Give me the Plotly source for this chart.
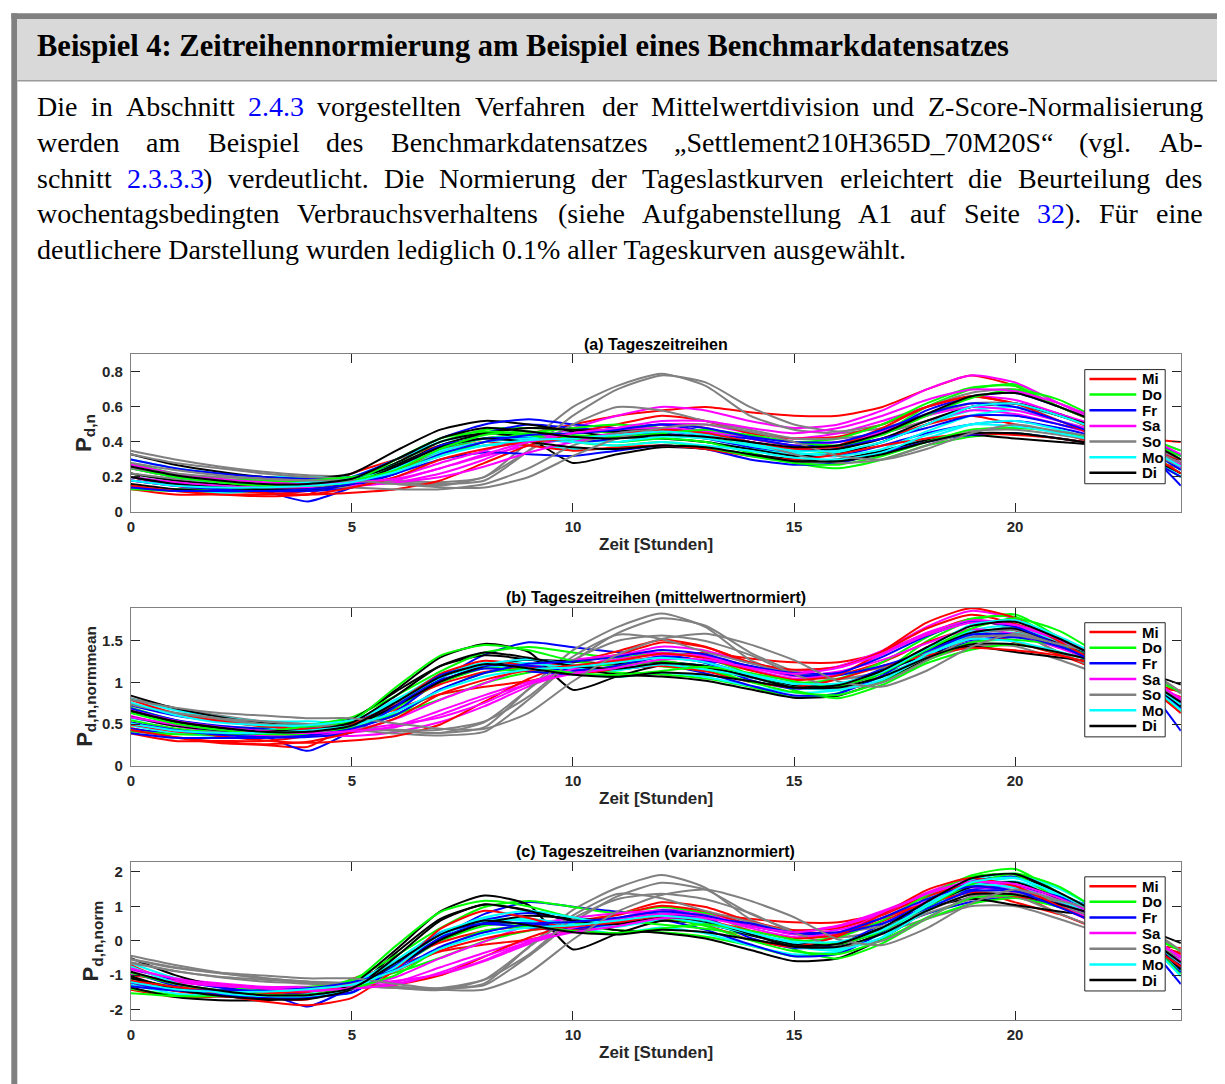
import numpy as np
import plotly.graph_objects as go

# ---------------- data (hourly samples) ----------------
HOURS = [0, 1, 2, 3, 4, 5, 6, 7, 8, 9, 10, 11, 12, 13, 14, 15, 16, 17, 18, 19, 20, 21, 22, 23, 23.75]
DAYS = ["Mi", "Do", "Fr", "Sa", "So", "Mo", "Di"]
DAY_COLORS = ["#ff0000", "#00ff00", "#0000ff", "#ff00ff", "#808080", "#00ffff", "#000000"]

MI = [
    [0.20, 0.15, 0.12, 0.11, 0.10, 0.22, 0.30, 0.38, 0.42, 0.45, 0.50, 0.55, 0.58, 0.60, 0.57, 0.55, 0.55, 0.60, 0.70, 0.78, 0.72, 0.60, 0.50, 0.42, 0.40],
    [0.13, 0.10, 0.10, 0.10, 0.12, 0.16, 0.25, 0.33, 0.38, 0.40, 0.42, 0.45, 0.50, 0.48, 0.42, 0.38, 0.37, 0.42, 0.50, 0.55, 0.50, 0.45, 0.38, 0.30, 0.25],
    [0.18, 0.15, 0.13, 0.11, 0.10, 0.11, 0.13, 0.18, 0.28, 0.38, 0.45, 0.50, 0.55, 0.52, 0.45, 0.42, 0.43, 0.50, 0.60, 0.66, 0.62, 0.55, 0.45, 0.35, 0.30],
    [0.25, 0.20, 0.17, 0.15, 0.14, 0.16, 0.24, 0.35, 0.40, 0.38, 0.35, 0.37, 0.38, 0.36, 0.32, 0.30, 0.33, 0.38, 0.42, 0.45, 0.44, 0.42, 0.38, 0.32, 0.28],
    [0.15, 0.12, 0.10, 0.09, 0.10, 0.14, 0.20, 0.30, 0.36, 0.40, 0.42, 0.44, 0.47, 0.45, 0.40, 0.36, 0.38, 0.48, 0.60, 0.66, 0.62, 0.52, 0.42, 0.33, 0.22],
]
DO = [
    [0.28, 0.22, 0.19, 0.18, 0.17, 0.19, 0.28, 0.40, 0.47, 0.48, 0.47, 0.45, 0.44, 0.42, 0.38, 0.33, 0.35, 0.45, 0.60, 0.70, 0.73, 0.62, 0.52, 0.42, 0.30],
    [0.15, 0.13, 0.13, 0.14, 0.15, 0.18, 0.26, 0.35, 0.42, 0.44, 0.42, 0.40, 0.42, 0.40, 0.34, 0.28, 0.25, 0.30, 0.38, 0.43, 0.45, 0.42, 0.38, 0.30, 0.20],
    [0.22, 0.18, 0.16, 0.16, 0.18, 0.20, 0.25, 0.32, 0.40, 0.45, 0.48, 0.50, 0.48, 0.46, 0.43, 0.40, 0.42, 0.50, 0.62, 0.71, 0.72, 0.60, 0.50, 0.40, 0.32],
    [0.13, 0.12, 0.12, 0.13, 0.15, 0.17, 0.30, 0.42, 0.46, 0.44, 0.40, 0.38, 0.40, 0.37, 0.32, 0.28, 0.27, 0.32, 0.40, 0.47, 0.48, 0.46, 0.40, 0.33, 0.22],
    [0.25, 0.20, 0.17, 0.15, 0.15, 0.18, 0.24, 0.36, 0.44, 0.46, 0.44, 0.43, 0.45, 0.47, 0.44, 0.40, 0.38, 0.44, 0.55, 0.65, 0.70, 0.64, 0.52, 0.42, 0.35],
]
FR = [
    [0.15, 0.13, 0.13, 0.12, 0.06, 0.14, 0.22, 0.35, 0.45, 0.50, 0.48, 0.46, 0.45, 0.42, 0.37, 0.33, 0.32, 0.38, 0.45, 0.50, 0.52, 0.48, 0.42, 0.35, 0.25],
    [0.30, 0.25, 0.22, 0.20, 0.19, 0.20, 0.30, 0.42, 0.50, 0.53, 0.50, 0.48, 0.50, 0.46, 0.40, 0.35, 0.36, 0.45, 0.58, 0.66, 0.68, 0.60, 0.50, 0.42, 0.32],
    [0.20, 0.16, 0.14, 0.13, 0.13, 0.15, 0.22, 0.30, 0.34, 0.33, 0.32, 0.35, 0.38, 0.36, 0.30, 0.27, 0.28, 0.34, 0.40, 0.44, 0.45, 0.42, 0.38, 0.30, 0.20],
    [0.18, 0.15, 0.13, 0.12, 0.12, 0.14, 0.25, 0.38, 0.42, 0.42, 0.40, 0.42, 0.46, 0.44, 0.42, 0.38, 0.38, 0.42, 0.48, 0.55, 0.55, 0.50, 0.44, 0.35, 0.24],
    [0.14, 0.12, 0.12, 0.12, 0.13, 0.16, 0.22, 0.33, 0.40, 0.44, 0.45, 0.47, 0.50, 0.48, 0.43, 0.40, 0.40, 0.47, 0.56, 0.62, 0.60, 0.52, 0.43, 0.33, 0.15],
]
SA = [
    [0.25, 0.20, 0.17, 0.15, 0.15, 0.15, 0.17, 0.22, 0.30, 0.40, 0.48, 0.55, 0.60, 0.58, 0.52, 0.48, 0.50, 0.58, 0.70, 0.78, 0.74, 0.62, 0.50, 0.40, 0.30],
    [0.22, 0.18, 0.16, 0.15, 0.14, 0.15, 0.18, 0.25, 0.32, 0.38, 0.42, 0.45, 0.50, 0.50, 0.45, 0.42, 0.45, 0.52, 0.60, 0.66, 0.64, 0.56, 0.48, 0.38, 0.28],
    [0.18, 0.15, 0.14, 0.14, 0.14, 0.15, 0.20, 0.28, 0.35, 0.42, 0.45, 0.47, 0.48, 0.46, 0.42, 0.38, 0.40, 0.45, 0.52, 0.58, 0.56, 0.50, 0.43, 0.35, 0.25],
    [0.20, 0.17, 0.15, 0.14, 0.14, 0.15, 0.17, 0.20, 0.26, 0.34, 0.40, 0.44, 0.46, 0.45, 0.40, 0.36, 0.38, 0.46, 0.55, 0.60, 0.58, 0.52, 0.45, 0.37, 0.27],
    [0.27, 0.22, 0.19, 0.17, 0.16, 0.17, 0.19, 0.25, 0.33, 0.40, 0.45, 0.48, 0.52, 0.52, 0.48, 0.45, 0.48, 0.55, 0.64, 0.70, 0.69, 0.62, 0.52, 0.42, 0.33],
]
SO = [
    [0.35, 0.30, 0.26, 0.23, 0.21, 0.20, 0.18, 0.17, 0.20, 0.40, 0.60, 0.72, 0.79, 0.72, 0.55, 0.47, 0.45, 0.48, 0.55, 0.62, 0.62, 0.55, 0.47, 0.40, 0.32],
    [0.33, 0.28, 0.25, 0.22, 0.20, 0.19, 0.17, 0.16, 0.18, 0.35, 0.55, 0.70, 0.78, 0.74, 0.60, 0.50, 0.46, 0.50, 0.60, 0.68, 0.70, 0.60, 0.50, 0.42, 0.35],
    [0.28, 0.24, 0.21, 0.19, 0.18, 0.17, 0.16, 0.15, 0.20, 0.35, 0.50, 0.60, 0.58, 0.52, 0.47, 0.42, 0.42, 0.45, 0.52, 0.60, 0.62, 0.55, 0.47, 0.38, 0.30],
    [0.22, 0.19, 0.17, 0.16, 0.15, 0.14, 0.13, 0.13, 0.16, 0.25, 0.38, 0.45, 0.47, 0.45, 0.40, 0.33, 0.28, 0.30, 0.38, 0.46, 0.47, 0.44, 0.40, 0.34, 0.26],
    [0.25, 0.22, 0.20, 0.19, 0.18, 0.18, 0.16, 0.14, 0.14, 0.20, 0.32, 0.42, 0.48, 0.50, 0.46, 0.40, 0.32, 0.30, 0.36, 0.45, 0.50, 0.46, 0.42, 0.36, 0.28],
]
MO = [
    [0.30, 0.25, 0.22, 0.20, 0.20, 0.20, 0.30, 0.40, 0.45, 0.44, 0.42, 0.40, 0.42, 0.40, 0.36, 0.33, 0.34, 0.40, 0.50, 0.58, 0.60, 0.55, 0.47, 0.38, 0.28],
    [0.15, 0.12, 0.11, 0.12, 0.13, 0.16, 0.24, 0.34, 0.38, 0.38, 0.36, 0.36, 0.38, 0.37, 0.33, 0.30, 0.30, 0.35, 0.42, 0.50, 0.52, 0.47, 0.40, 0.32, 0.20],
    [0.20, 0.17, 0.15, 0.15, 0.17, 0.19, 0.27, 0.37, 0.42, 0.43, 0.41, 0.40, 0.43, 0.42, 0.38, 0.34, 0.32, 0.36, 0.46, 0.55, 0.58, 0.52, 0.45, 0.35, 0.24],
    [0.25, 0.20, 0.17, 0.16, 0.16, 0.18, 0.25, 0.35, 0.40, 0.42, 0.40, 0.38, 0.40, 0.38, 0.35, 0.31, 0.30, 0.34, 0.44, 0.50, 0.49, 0.45, 0.40, 0.32, 0.22],
    [0.18, 0.15, 0.14, 0.14, 0.15, 0.17, 0.23, 0.32, 0.38, 0.41, 0.42, 0.44, 0.46, 0.44, 0.39, 0.35, 0.35, 0.40, 0.50, 0.60, 0.62, 0.55, 0.46, 0.36, 0.26],
]
DI = [
    [0.33, 0.27, 0.23, 0.20, 0.19, 0.22, 0.35, 0.47, 0.52, 0.50, 0.46, 0.43, 0.42, 0.40, 0.36, 0.32, 0.33, 0.40, 0.50, 0.60, 0.62, 0.56, 0.47, 0.38, 0.28],
    [0.16, 0.13, 0.12, 0.12, 0.13, 0.17, 0.28, 0.40, 0.45, 0.42, 0.28, 0.33, 0.37, 0.36, 0.33, 0.30, 0.30, 0.35, 0.41, 0.44, 0.42, 0.40, 0.38, 0.34, 0.30],
    [0.22, 0.18, 0.16, 0.15, 0.15, 0.18, 0.27, 0.38, 0.45, 0.48, 0.47, 0.46, 0.47, 0.45, 0.40, 0.36, 0.36, 0.42, 0.52, 0.60, 0.62, 0.55, 0.47, 0.37, 0.27],
    [0.20, 0.16, 0.14, 0.13, 0.13, 0.16, 0.26, 0.37, 0.42, 0.40, 0.37, 0.36, 0.38, 0.37, 0.33, 0.29, 0.29, 0.33, 0.40, 0.45, 0.45, 0.42, 0.38, 0.31, 0.22],
    [0.26, 0.21, 0.18, 0.16, 0.16, 0.19, 0.30, 0.42, 0.48, 0.46, 0.43, 0.42, 0.44, 0.43, 0.40, 0.37, 0.38, 0.45, 0.56, 0.66, 0.68, 0.60, 0.50, 0.40, 0.30],
]
CURVES = [MI, DO, FR, SA, SO, MO, DI]

X_TICKS = [0, 5, 10, 15, 20]
X_TICKTEXT = ["0", "5", "10", "15", "20"]
YA_TICKS = [0, 0.2, 0.4, 0.6, 0.8]
YA_TICKTEXT = ["0", "0.2", "0.4", "0.6", "0.8"]
YB_TICKS = [0, 0.5, 1, 1.5]
YB_TICKTEXT = ["0", "0.5", "1", "1.5"]
YC_TICKS = [-2, -1, 0, 1, 2]
YC_TICKTEXT = ["-2", "-1", "0", "1", "2"]

PANEL_TITLES = ["(a) Tageszeitreihen", "(b) Tageszeitreihen (mittelwertnormiert)",
                "(c) Tageszeitreihen (varianznormiert)"]
Y_TITLES = ["P<sub>d,n</sub>", "P<sub>d,n,normmean</sub>", "P<sub>d,n,norm</sub>"]
X_TITLE = "Zeit [Stunden]"

HEADER = "Beispiel 4: Zeitreihennormierung am Beispiel eines Benchmarkdatensatzes"
K, B = "#000000", "#0000ff"   # text colour, link colour

# each word is a list of (text, colour) pieces
TEXT_LINES = [
    [[("Die", K)], [("in", K)], [("Abschnitt", K)], [("2.4.3", B)], [("vorgestellten", K)],
     [("Verfahren", K)], [("der", K)], [("Mittelwertdivision", K)], [("und", K)],
     [("Z-Score-Normalisierung", K)]],
    [[("werden", K)], [("am", K)], [("Beispiel", K)], [("des", K)], [("Benchmarkdatensatzes", K)],
     [("„Settlement210H365D_70M20S“", K)], [("(vgl.", K)], [("Ab-", K)]],
    [[("schnitt", K)], [("2.3.3.3", B), (")", K)], [("verdeutlicht.", K)], [("Die", K)],
     [("Normierung", K)], [("der", K)], [("Tageslastkurven", K)], [("erleichtert", K)],
     [("die", K)], [("Beurteilung", K)], [("des", K)]],
    [[("wochentagsbedingten", K)], [("Verbrauchsverhaltens", K)], [("(siehe", K)],
     [("Aufgabenstellung", K)], [("A1", K)], [("auf", K)], [("Seite", K)], [("32", B), (").", K)],
     [("Für", K)], [("eine", K)]],
]
LAST_LINE = "deutlichere Darstellung wurden lediglich 0.1% aller Tageskurven ausgewählt."

# ---------------- helpers (layout only) ----------------
OFFX, OFFY = 8, 4
W, H = 1225 - OFFX, 1084 - OFFY
def px(x):
    return (x - OFFX) / W
def py(y):
    return 1 - (y - OFFY) / H

# Times / Liberation Serif advance widths (1/1000 em) for justification
TIMES = {' ': 250, '%': 833, '(': 333, ')': 333, ',': 250, '-': 333, '.': 250, '_': 500, ':': 278,
         '„': 444, '“': 444, 'ä': 444, 'ü': 500,
         'A': 722, 'B': 667, 'C': 667, 'D': 722, 'E': 611, 'F': 556, 'G': 722, 'H': 722, 'I': 333,
         'J': 389, 'K': 722, 'L': 611, 'M': 889, 'N': 722, 'O': 722, 'P': 556, 'Q': 722, 'R': 667,
         'S': 556, 'T': 611, 'U': 722, 'V': 722, 'W': 944, 'X': 722, 'Y': 722, 'Z': 611,
         'a': 444, 'b': 500, 'c': 444, 'd': 500, 'e': 444, 'f': 333, 'g': 500, 'h': 500, 'i': 278,
         'j': 278, 'k': 500, 'l': 278, 'm': 778, 'n': 500, 'o': 500, 'p': 500, 'q': 500, 'r': 333,
         's': 389, 't': 278, 'u': 500, 'v': 500, 'w': 722, 'x': 500, 'y': 500, 'z': 444}
def text_width(s, fs):
    return sum(TIMES.get(c, 500) for c in s) / 1000.0 * fs

fig = go.Figure()

# ---------------- traces ----------------
x_dom = [px(127.3), px(1180.7)]
panel_top = [353.0, 608.0, 864.0]
panel_bot = [511.7, 767.3, 1023.3]
ytitle_x = [81.0, 81.5, 88.0]
axes_ids = [("x", "y"), ("x2", "y2"), ("x3", "y3")]

def transform(vals, panel):
    v = np.array(vals, dtype=float)
    if panel == 0:
        return v
    if panel == 1:
        return v / v.mean()
    return (v - v.mean()) / v.std(ddof=1)

n_per_day = len(MI)
for p in range(3):
    xa, ya = axes_ids[p]
    for k in range(n_per_day):
        for d, day in enumerate(DAYS):
            fig.add_trace(go.Scatter(
                x=HOURS, y=transform(CURVES[d][k], p), mode="lines",
                line=dict(color=DAY_COLORS[d], width=2, shape="spline", smoothing=0.6),
                name=day, showlegend=False, hoverinfo="skip",
                xaxis=xa, yaxis=ya))

# ---------------- axes ----------------
tick_font = dict(family="Liberation Sans", size=15, color="#262626", weight="bold")
y_ranges = [[0, 0.9], [0, 1.9], [-2.3, 2.3]]
y_ticks = [(YA_TICKS, YA_TICKTEXT), (YB_TICKS, YB_TICKTEXT), (YC_TICKS, YC_TICKTEXT)]
layout_axes = {}
for p in range(3):
    sfx = "" if p == 0 else str(p + 1)
    layout_axes["xaxis" + sfx] = dict(
        domain=x_dom, range=[0, 23.75], anchor="y" + sfx,
        tickvals=X_TICKS, ticktext=X_TICKTEXT, ticks="inside", ticklen=9, tickwidth=1,
        tickcolor="#262626", showline=True, linecolor="#808080", linewidth=1, mirror="ticks",
        showgrid=False, zeroline=False, tickfont=tick_font, ticklabelstandoff=1)
    layout_axes["yaxis" + sfx] = dict(
        domain=[py(panel_bot[p]), py(panel_top[p])], range=y_ranges[p], anchor="x" + sfx,
        tickvals=y_ticks[p][0], ticktext=y_ticks[p][1], ticks="inside", ticklen=9, tickwidth=1,
        tickcolor="#262626", showline=True, linecolor="#808080", linewidth=1, mirror="ticks",
        showgrid=False, zeroline=False, tickfont=tick_font, ticklabelstandoff=4)

shapes = []
annotations = []

# ---------------- page frame ----------------
shapes.append(dict(type="rect", xref="paper", yref="paper", x0=px(7.3), x1=px(13.3), y0=py(1090), y1=py(9.3),
                   fillcolor="#808080", line=dict(width=0), layer="below"))
shapes.append(dict(type="rect", xref="paper", yref="paper", x0=px(7.3), x1=px(1230), y0=py(15.0), y1=py(9.3),
                   fillcolor="#808080", line=dict(width=0), layer="below"))
shapes.append(dict(type="rect", xref="paper", yref="paper", x0=px(1222.8), x1=px(1230), y0=py(1090), y1=py(9.3),
                   fillcolor="#808080", line=dict(width=0), layer="below"))
shapes.append(dict(type="rect", xref="paper", yref="paper", x0=px(13.3), x1=px(1222.8), y0=py(77.3), y1=py(15.0),
                   fillcolor="#d9d9d9", line=dict(width=0), layer="below"))
shapes.append(dict(type="line", xref="paper", yref="paper", x0=px(13.3), x1=px(1222.8), y0=py(77.3), y1=py(77.3),
                   line=dict(color="#9a9a9a", width=1.5), layer="below"))

# header
HFS = 30.5
annotations.append(dict(text="<b>" + HEADER + "</b>", xref="paper", yref="paper", x=px(31), y=py(53 - 0.3375 * HFS),
                        xanchor="left", yanchor="middle", showarrow=False,
                        font=dict(family="Liberation Serif", size=HFS, color="#000000")))

# body text (justified lines)
FS = 28
L_EDGE, R_EDGE = 31.0, 1200.0
baselines = [113.0, 149.0, 185.0, 220.5, 256.5]
def add_text(txt, x, y, color, fs=FS):
    annotations.append(dict(text=txt, xref="paper", yref="paper", x=px(x), y=py(y),
                            xanchor="left", yanchor="middle", showarrow=False,
                            font=dict(family="Liberation Serif", size=fs, color=color)))

for li, words in enumerate(TEXT_LINES):
    widths = [sum(text_width(t, FS) for t, _ in w) for w in words]
    gap = (R_EDGE - L_EDGE - sum(widths)) / (len(words) - 1)
    xpos = L_EDGE
    yc = baselines[li] - 0.3375 * FS
    for word, w in zip(words, widths):
        xx = xpos
        for t, col in word:
            add_text(t, xx, yc, col)
            xx += text_width(t, FS)
        xpos += w + gap
add_text(LAST_LINE, L_EDGE, baselines[4] - 0.3375 * FS, K)

# ---------------- panel titles, axis titles, manual legends ----------------
for p in range(3):
    T, Bt = panel_top[p], panel_bot[p]
    annotations.append(dict(text="<b>" + PANEL_TITLES[p] + "</b>", xref="paper", yref="paper",
                            x=px(654), y=py(T - 10), xanchor="center", yanchor="middle", showarrow=False,
                            font=dict(family="Liberation Sans", size=16, color="#000000")))
    annotations.append(dict(text="<b>" + X_TITLE + "</b>", xref="paper", yref="paper",
                            x=px(654), y=py(Bt + 33), xanchor="center", yanchor="middle", showarrow=False,
                            font=dict(family="Liberation Sans", size=17, color="#262626")))
    annotations.append(dict(text="<b>" + Y_TITLES[p] + "</b>", xref="paper", yref="paper",
                            x=px(ytitle_x[p]), y=py((T + Bt) / 2), xanchor="center", yanchor="middle",
                            textangle=-90, showarrow=False,
                            font=dict(family="Liberation Sans", size=22, color="#262626")))
    shapes.append(dict(type="rect", xref="paper", yref="paper", x0=px(1084.3), x1=px(1165.0),
                       y0=py(T + 130.3), y1=py(T + 15.3), fillcolor="#ffffff",
                       line=dict(color="#262626", width=1), layer="above"))
    for i, day in enumerate(DAYS):
        yy = T + 24.7 + i * 15.77
        shapes.append(dict(type="line", xref="paper", yref="paper", x0=px(1089), x1=px(1136),
                           y0=py(yy), y1=py(yy), line=dict(color=DAY_COLORS[i], width=2.5), layer="above"))
        annotations.append(dict(text="<b>" + day + "</b>", xref="paper", yref="paper", x=px(1140), y=py(yy),
                                xanchor="left", yanchor="middle", showarrow=False,
                                font=dict(family="Liberation Sans", size=15, color="#000000")))

fig.update_layout(
    width=W, height=H, margin=dict(l=0, r=0, t=0, b=0),
    paper_bgcolor="#ffffff", plot_bgcolor="#ffffff", showlegend=False,
    shapes=shapes, annotations=annotations, **layout_axes)

fig.write_html("out.html")
